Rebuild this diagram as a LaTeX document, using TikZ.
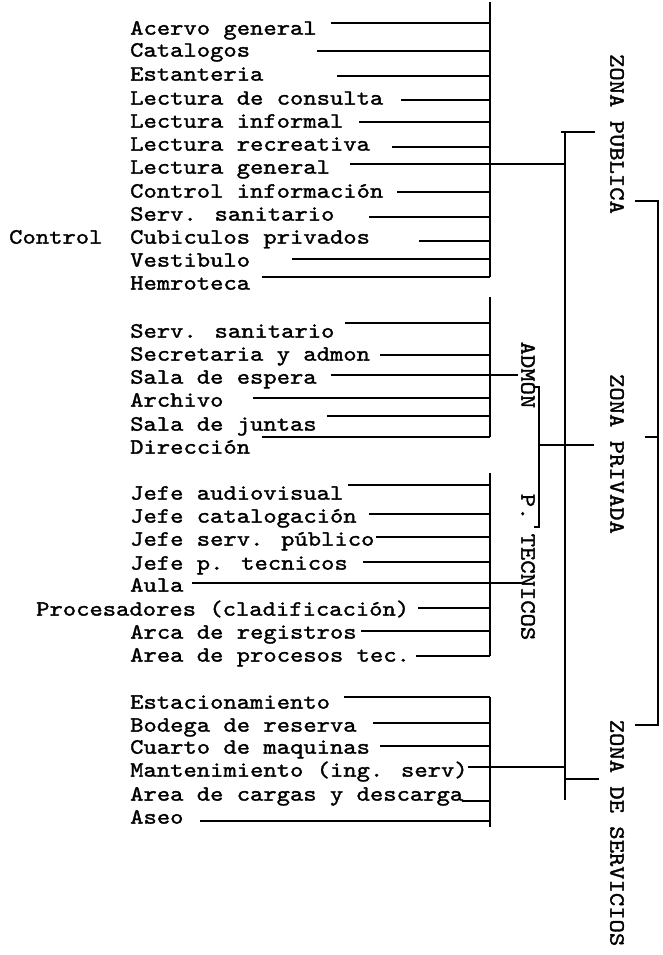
\documentclass[tikz,border=0pt]{standalone}
\usepackage{fontspec}
\setmainfont{lmmono10-regular.otf}[FakeStretch=1.164,FakeBold=1.5]
\begin{document}
\begin{tikzpicture}[x=1pt,y=-1pt,
  lbl/.style={anchor=west,inner sep=0pt,text height=13.3pt,text depth=0pt,font=\fontsize{21.8}{26}\selectfont},
  vlbl/.style={rotate=-90,inner sep=0pt,font=\fontsize{21.8}{26}\selectfont},
  ln/.style={line width=1.5pt},
]
\useasboundingbox (0,0) rectangle (662,955);
% ---------- group 1
\foreach \i/\ty/\ly/\xs/\t in {
 1/28/23/331/Acervo general,
 2/50/51/317/Catalogos,
 3/74/76/337/Estanteria,
 4/98/100/401/Lectura de consulta,
 5/121/122/359/Lectura informal,
 6/144/147/392/Lectura recreativa,
 7/167/164/350/Lectura general,
 8/191/192/397/Control información,
 9/214/217/369/Serv. sanitario,
 10/237/241/419/Cubiculos privados,
 11/260/259/292/Vestibulo,
 12/283/277/262/Hemroteca}{
  \node[lbl] (a\i) at (130,\ty) {\t};
  \coordinate (as\i) at (\xs,\ly);
  \coordinate (ae\i) at (490,\ly);
  \draw[ln] (as\i) -- (ae\i);
}
\node[lbl] (ctrl) at (9,237) {Control};
\coordinate (b1top) at (490,2);
\draw[ln] (b1top) -- (ae12);
% ---------- group 2
\foreach \i/\ty/\ly/\xs/\t in {
 1/331/323/345/Serv. sanitario,
 2/354/355/380/Secretaria y admon,
 3/377/375/331/Sala de espera,
 4/400/398/253/Archivo,
 5/424/416/327/Sala de juntas,
 6/447/437/262/Dirección}{
  \node[lbl] (b\i) at (130,\ty) {\t};
  \coordinate (bs\i) at (\xs,\ly);
  \coordinate (be\i) at (490,\ly);
  \draw[ln] (bs\i) -- (be\i);
}
\coordinate (b2top) at (490,297);
\draw[ln] (b2top) -- (be6);
% ---------- group 3
\foreach \i/\ty/\ly/\xs/\t in {
 1/493/485/348/Jefe audiovisual,
 2/516/514/369/Jefe catalogación,
 3/539/537/376/Jefe serv. público,
 4/563/562/363/Jefe p. tecnicos,
 5/585/583/192/Aula,
 7/632/631/361/Arca de registros,
 8/655/656/416/Area de procesos tec.}{
  \node[lbl] (c\i) at (130,\ty) {\t};
  \coordinate (cs\i) at (\xs,\ly);
  \coordinate (ce\i) at (490,\ly);
  \draw[ln] (cs\i) -- (ce\i);
}
\node[lbl] (c6) at (36,609) {Procesadores (cladificación)};
\coordinate (cs6) at (418,608);
\coordinate (ce6) at (490,608);
\draw[ln] (cs6) -- (ce6);
\coordinate (c3top) at (490,473);
\draw[ln] (c3top) -- (ce8);
% ---------- group 4
\foreach \i/\ty/\ly/\xs/\t in {
 1/702/697/344/Estacionamiento,
 2/725/723/373/Bodega de reserva,
 3/747/746/380/Cuarto de maquinas,
 4/770/767/468/Mantenimiento (ing. serv),
 5/794/801/462/Area de cargas y descarga,
 6/817/821/200/Aseo}{
  \node[lbl] (d\i) at (130,\ty) {\t};
  \coordinate (ds\i) at (\xs,\ly);
  \coordinate (de\i) at (490,\ly);
  \draw[ln] (ds\i) -- (de\i);
}
\coordinate (d4bot) at (490,827);
\draw[ln] (ds1 -| de1) -- (d4bot);
% ---------- vertical labels
\node[vlbl] (zpub) at (617,134) {ZONA PUBLICA};
\node[vlbl] (zpri) at (617,454) {ZONA PRIVADA};
\node[vlbl] (zser) at (617,833) {ZONA DE SERVICIOS};
\node[vlbl] (admon) at (528,375) {ADMON};
\node[vlbl] (ptec) at (528,567) {P. TECNICOS};
% ---------- connections to sub-groups
\coordinate (lgA) at (565,164);
\draw[ln] (ae7) -- (lgA);
\coordinate (admE) at (518,375);
\draw[ln] (be3) -- (admE);
\coordinate (ptE) at (523,583);
\draw[ln] (ce5) -- (ptE);
\coordinate (mtA) at (565,767);
\draw[ln] (de4) -- (mtA);
% vertical A
\coordinate (vAtop) at (565,132);
\coordinate (vAbot) at (565,800);
\draw[ln] (vAtop) -- (vAbot);
\coordinate (tk1a) at (561,132);
\coordinate (tk1b) at (595,132);
\draw[ln] (tk1a) -- (tk1b);
\coordinate (tk2a) at (565,779);
\coordinate (tk2b) at (599,779);
\draw[ln] (tk2a) -- (tk2b);
% vertical B (admon / p. tecnicos)
\coordinate (vBtop) at (539,387);
\coordinate (vBbot) at (539,527);
\coordinate (vBt0) at (533,387);
\coordinate (vBb0) at (534,527);
\draw[ln] (vBt0) -- (vBtop) -- (vBbot) -- (vBb0);
\coordinate (prA) at (539,445);
\coordinate (prB) at (594,445);
\draw[ln] (prA) -- (prB);
% right bracket
\coordinate (rb1) at (635,201);
\coordinate (rb2) at (658,201);
\coordinate (rb3) at (658,725);
\coordinate (rb4) at (635,725);
\draw[ln] (rb1) -- (rb2) -- (rb3) -- (rb4);
\coordinate (rbt) at (645,437);
\draw[ln] (rbt) -- (rbt -| rb2);
\end{tikzpicture}
\end{document}
